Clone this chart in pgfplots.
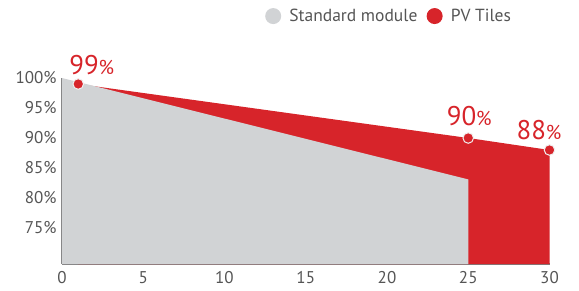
\documentclass[border=0pt]{standalone}
\usepackage{fontspec}
\setmainfont{PT Sans}
\usepackage{pgfplots}
\pgfplotsset{compat=1.18}
\definecolor{stdgray}{RGB}{209,211,213}
\definecolor{pvred}{RGB}{215,36,42}
\definecolor{axgray}{RGB}{125,125,125}
\definecolor{txtgray}{RGB}{85,85,85}
\begin{document}
\begin{tikzpicture}
\begin{axis}[name=ax, scale only axis, width=487.5pt, height=186pt,
  xmin=0, xmax=30, ymin=69, ymax=100, clip=false,
  axis lines=left, axis line style={-, axgray, line width=1.3pt},
  xtick={0,5,...,30}, ytick={75,80,...,100},
  yticklabel={\pgfmathprintnumber{\tick}\%},
  major tick length=0pt,
  tick label style={font=\fontsize{17}{17}\selectfont, text=txtgray},
  xticklabel style={yshift=-4pt},
  yticklabel style={xshift=-2pt},
  /pgf/number format/assume math mode=true,
  legend columns=2,
  legend image code/.code={\path (0pt,0pt) (22pt,0pt); \fill[#1, draw=none] (8pt,0pt) circle (8pt);},
  legend style={at={(0.4164,1.333)}, anchor=west, draw=none, fill=none,
    inner sep=0pt, outer sep=0pt,
    font=\fontsize{17.5}{17.5}\selectfont, text=txtgray,
    /tikz/every even column/.append style={column sep=7pt}},
]
\addlegendimage{fill=stdgray}
\addlegendentry{Standard module}
\addlegendimage{fill=pvred}
\addlegendentry{PV Tiles}
% PV tiles area
\addplot[fill=pvred, draw=none, forget plot] coordinates {(1,99) (25,90) (30,88) (30,69) (1,69)} -- cycle;
% standard module area
\addplot[fill=stdgray, draw=none, forget plot] coordinates {(0,100) (25,83.1) (25,69) (0,69)} -- cycle;
% PV tiles points
\addplot[only marks, mark=*, mark size=5.3pt, forget plot,
  mark options={fill=pvred, draw=white!88!gray, line width=1pt}]
  coordinates {(1,99) (25,90) (30,88)};
\node[anchor=base, inner sep=0pt, text=pvred, xshift=13.5pt, yshift=10pt] at (axis cs:1,99)
  {\fontsize{27}{27}\selectfont 99\fontsize{20}{20}\selectfont\%};
\node[anchor=base, inner sep=0pt, text=pvred, xshift=1pt, yshift=13pt] at (axis cs:25,90)
  {\fontsize{27}{27}\selectfont 90\fontsize{20}{20}\selectfont\%};
\node[anchor=base, inner sep=0pt, text=pvred, xshift=-10.5pt, yshift=11pt] at (axis cs:30,88)
  {\fontsize{27}{27}\selectfont 88\fontsize{20}{20}\selectfont\%};
\end{axis}
\path (ax.south west) ++(-62pt,-26pt) rectangle ++(579pt,290pt);
\end{tikzpicture}
\end{document}
